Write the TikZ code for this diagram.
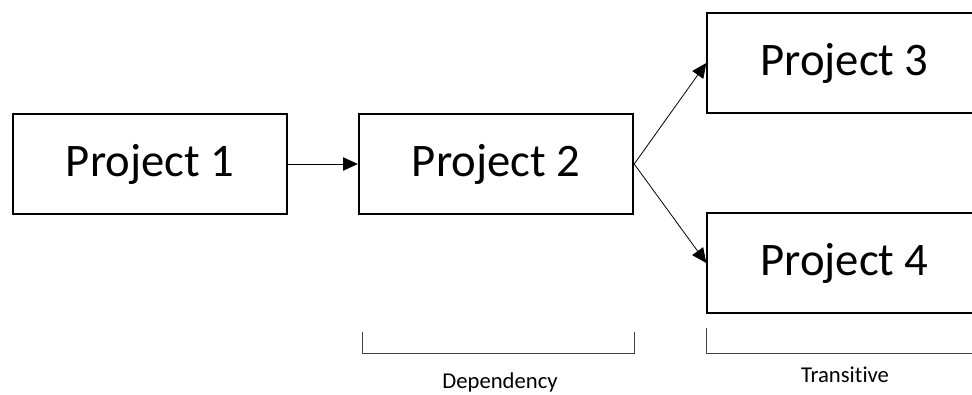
\documentclass[tikz,border=0pt]{standalone}
\usepackage{fontspec}
\setmainfont[Ligatures={NoCommon}]{Carlito}
\usetikzlibrary{arrows.meta,positioning,calc}

\begin{document}
\begin{tikzpicture}[x=0.75pt,y=-0.75pt]
%
% Styles
%
\tikzset{every node/.style={font=\fontsize{35}{41}\selectfont}};%
\tikzset{fleche/.style={-{Triangle[length=11pt,width=10pt]}, line width=0.6pt}};%
\tikzset{projet/.style={draw, line width=1.3pt, inner sep=0pt, minimum width=206pt, minimum height=75.5pt}};%
\tikzset{accolade/.style={draw=black!75, line width=0.7pt}};%
\tikzset{legende/.style={font=\fontsize{17}{20}\selectfont}};%

%
% Frame
%
\useasboundingbox (0,0) rectangle (972,394);%
\clip (0,0) rectangle (972,394);%

%
% Projects
%
\node[projet] (p1) at (150,164) {Project 1};%
\node[projet] (p2) at (496,164) {Project 2};%
\node[projet] (p3) at (844.5,63) {Project 3};%
\node[projet] (p4) at (844.5,263) {Project 4};%

\draw[fleche] (p1.east) -- (p2.west);%
\draw[fleche] (p2.east) -- (p3.west);%
\draw[fleche] (p2.east) -- (p4.west);%

%
% Groups below
%
\draw[accolade] (362,332) |- (634,353) -- (634,332);%
\node[legende] (dep) at (500,382) {Dependency};%
\draw[accolade] (706,328) |- (980,353);%
\node[legende] (trans) at (845,375) {Transitive};%
\end{tikzpicture}
\end{document}
